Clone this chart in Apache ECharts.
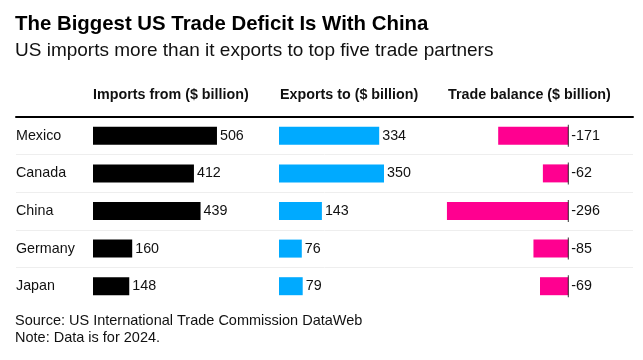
<!DOCTYPE html>
<html>
<head>
<meta charset="utf-8">
<script src="https://cdn.jsdelivr.net/npm/echarts@6/dist/echarts.min.js"></script>
<style>html,body{margin:0;padding:0;background:#fff}#c{width:643px;height:360px}</style>
</head>
<body>
<div id="c"></div>
<script>
const categories = ['Mexico', 'Canada', 'China', 'Germany', 'Japan'];
const importsFrom = [506, 412, 439, 160, 148];
const exportsTo = [334, 350, 143, 76, 79];
const tradeBalance = [-171, -62, -296, -85, -69];
const headers = ['Imports from ($ billion)', 'Exports to ($ billion)', 'Trade balance ($ billion)'];
const titleText = 'The Biggest US Trade Deficit Is With China';
const subtitleText = 'US imports more than it exports to top five trade partners';
const footerText = 'Source: US International Trade Commission DataWeb\nNote: Data is for 2024.';

const FONT = '"Liberation Sans", Arial, sans-serif';
const TXT = '#111';
const TOP = 117, H = 188;

function catY(gi, showLabels) {
  return {
    type: 'category', gridIndex: gi, data: categories, inverse: true,
    axisLine: { show: false }, axisTick: { show: false }, splitLine: { show: false },
    axisLabel: showLabels ? { show: true, align: 'left', margin: 77, fontSize: 14.3, color: TXT, fontFamily: FONT } : { show: false }
  };
}
function valX(gi, min, max) {
  return { type: 'value', gridIndex: gi, min: min, max: max, show: false };
}
const lbl = { show: true, position: 'right', distance: 3, fontSize: 14.3, color: TXT, fontFamily: FONT };

const chart = echarts.init(document.getElementById('c'), null, { renderer: 'canvas' });
chart.setOption({
  animation: false,
  backgroundColor: '#fff',
  title: [
    { text: titleText, left: 15, top: 12, padding: 0, textStyle: { fontFamily: FONT, fontWeight: 'bold', fontSize: 20.4, lineHeight: 24, color: '#000' } },
    { text: subtitleText, left: 15, top: 40, padding: 0, textStyle: { fontFamily: FONT, fontWeight: 'normal', fontSize: 19, lineHeight: 22, color: TXT } },
    { text: headers[0], left: 93, top: 87, padding: 0, textStyle: { fontFamily: FONT, fontWeight: 'bold', fontSize: 14.3, lineHeight: 16, color: TXT } },
    { text: headers[1], left: 280, top: 87, padding: 0, textStyle: { fontFamily: FONT, fontWeight: 'bold', fontSize: 14.3, lineHeight: 16, color: TXT } },
    { text: headers[2], left: 448, top: 87, padding: 0, textStyle: { fontFamily: FONT, fontWeight: 'bold', fontSize: 14.3, lineHeight: 16, color: TXT } },
    { text: footerText, left: 15, top: 313, padding: 0, textStyle: { fontFamily: FONT, fontWeight: 'normal', fontSize: 14.5, lineHeight: 16.5, color: TXT } }
  ],
  grid: [
    { left: 93, width: 147, top: TOP, height: H },
    { left: 279, width: 120, top: TOP, height: H },
    { left: 445.3, width: 123, top: TOP, height: H },
    { left: 16, width: 617, top: TOP, height: H },
    { left: 16, width: 617, top: 116, height: 1 }
  ],
  xAxis: [
    valX(0, 0, 600),
    valX(1, 0, 400),
    valX(2, -300, 0),
    { type: 'value', gridIndex: 3, min: 0, max: 1, show: false },
    { type: 'value', gridIndex: 4, min: 0, max: 1, position: 'top',
      axisLine: { show: true, lineStyle: { color: '#000', width: 2 } },
      axisTick: { show: false }, axisLabel: { show: false }, splitLine: { show: false } }
  ],
  yAxis: [
    catY(0, true),
    catY(1, false),
    catY(2, false),
    { type: 'value', gridIndex: 3, min: 0, max: categories.length, interval: 1, inverse: true,
      axisLine: { show: false }, axisTick: { show: false }, axisLabel: { show: false },
      splitLine: { show: true, showMinLine: false, showMaxLine: false, lineStyle: { color: '#eeeeee', width: 1 } } },
    { type: 'value', gridIndex: 4, min: 0, max: 1, show: false }
  ],
  series: [
    { type: 'bar', xAxisIndex: 0, yAxisIndex: 0, data: importsFrom, barWidth: 18, itemStyle: { color: '#000' }, label: lbl, silent: true },
    { type: 'bar', xAxisIndex: 1, yAxisIndex: 1, data: exportsTo, barWidth: 18, itemStyle: { color: '#00AAFF' }, label: lbl, silent: true },
    { type: 'bar', xAxisIndex: 2, yAxisIndex: 2, data: tradeBalance, barWidth: 18, itemStyle: { color: '#FF0090' }, label: lbl, silent: true },
    { type: 'scatter', xAxisIndex: 2, yAxisIndex: 2, data: categories.map(c => [0, c]), symbol: 'rect', symbolSize: [1, 22],
      itemStyle: { color: '#000' }, z: 5, silent: true }
  ]
});
</script>
</body>
</html>
